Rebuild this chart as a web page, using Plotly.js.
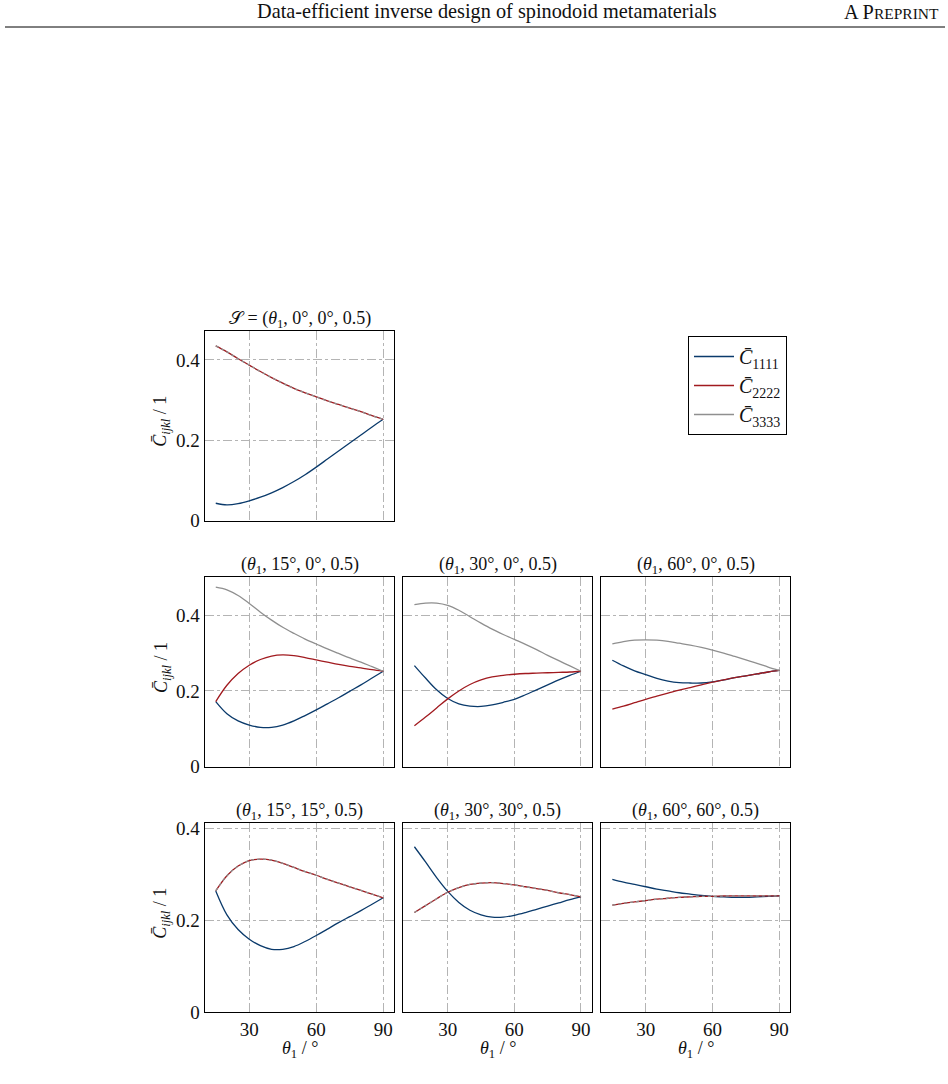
<!DOCTYPE html>
<html>
<head>
<meta charset="utf-8">
<script src="https://cdn.plot.ly/plotly-3.0.1.min.js"></script>
<style>html,body{margin:0;padding:0;background:#fff;}#chart{width:948px;height:1084px;}</style>
</head>
<body>
<div id="chart"></div>
<script>
// ---------------- data ----------------
const theta = [15,20,25,30,35,40,45,50,55,60,65,70,75,80,85,90];
const xTicks = [30,60,90];
const yTicks = [0,0.2,0.4];
const yTickText = ['0','0.2','0.4'];

// (θ1, 0°, 0°, 0.5)
const p00_C1111 = [0.043,0.039,0.042,0.049,0.058,0.069,0.082,0.097,0.114,0.133,0.153,0.173,0.193,0.213,0.233,0.252];
const p00_C2222 = [0.435,0.420,0.403,0.387,0.371,0.356,0.342,0.329,0.318,0.308,0.298,0.289,0.280,0.271,0.261,0.252];
const p00_C3333 = [0.435,0.420,0.403,0.387,0.371,0.356,0.342,0.329,0.318,0.308,0.298,0.289,0.280,0.271,0.261,0.252];
// (θ1, 15°, 0°, 0.5)
const p150_C1111 = [0.172,0.140,0.121,0.110,0.104,0.104,0.110,0.121,0.135,0.150,0.166,0.182,0.199,0.216,0.234,0.252];
const p150_C2222 = [0.172,0.215,0.246,0.268,0.283,0.292,0.295,0.293,0.288,0.282,0.276,0.270,0.265,0.261,0.256,0.252];
const p150_C3333 = [0.474,0.467,0.452,0.431,0.408,0.387,0.368,0.352,0.337,0.324,0.311,0.299,0.287,0.276,0.264,0.252];
// (θ1, 30°, 0°, 0.5)
const p300_C1111 = [0.267,0.234,0.203,0.180,0.166,0.160,0.159,0.163,0.170,0.178,0.190,0.203,0.216,0.229,0.241,0.252];
const p300_C2222 = [0.108,0.131,0.155,0.179,0.200,0.217,0.229,0.237,0.241,0.244,0.246,0.247,0.248,0.249,0.250,0.252];
const p300_C3333 = [0.428,0.432,0.432,0.426,0.413,0.396,0.379,0.363,0.349,0.336,0.323,0.309,0.294,0.280,0.266,0.252];
// (θ1, 60°, 0°, 0.5)
const p600_C1111 = [0.281,0.266,0.253,0.243,0.233,0.226,0.222,0.221,0.221,0.224,0.229,0.235,0.240,0.245,0.250,0.254];
const p600_C2222 = [0.152,0.160,0.169,0.178,0.186,0.194,0.202,0.209,0.216,0.223,0.229,0.235,0.240,0.245,0.250,0.254];
const p600_C3333 = [0.324,0.330,0.334,0.335,0.334,0.331,0.326,0.321,0.315,0.308,0.300,0.291,0.282,0.273,0.263,0.254];
// (θ1, 15°, 15°, 0.5)
const p1515_C1111 = [0.264,0.212,0.180,0.159,0.145,0.137,0.137,0.143,0.154,0.167,0.181,0.195,0.208,0.221,0.235,0.249];
const p1515_C2222 = [0.264,0.297,0.318,0.330,0.333,0.331,0.324,0.315,0.306,0.298,0.289,0.281,0.273,0.265,0.257,0.249];
const p1515_C3333 = [0.264,0.297,0.318,0.330,0.333,0.331,0.324,0.315,0.306,0.298,0.289,0.281,0.273,0.265,0.257,0.249];
// (θ1, 30°, 30°, 0.5)
const p3030_C1111 = [0.360,0.327,0.293,0.263,0.239,0.222,0.212,0.207,0.207,0.211,0.217,0.224,0.231,0.238,0.245,0.251];
const p3030_C2222 = [0.217,0.232,0.247,0.261,0.271,0.278,0.281,0.282,0.280,0.277,0.273,0.269,0.265,0.260,0.256,0.251];
const p3030_C3333 = [0.217,0.232,0.247,0.261,0.271,0.278,0.281,0.282,0.280,0.277,0.273,0.269,0.265,0.260,0.256,0.251];
// (θ1, 60°, 60°, 0.5)
const p6060_C1111 = [0.289,0.283,0.278,0.273,0.268,0.264,0.260,0.257,0.254,0.252,0.251,0.250,0.250,0.251,0.252,0.253];
const p6060_C2222 = [0.233,0.237,0.240,0.243,0.246,0.248,0.250,0.251,0.252,0.252,0.253,0.253,0.253,0.253,0.253,0.253];
const p6060_C3333 = [0.233,0.237,0.240,0.243,0.246,0.248,0.250,0.251,0.252,0.252,0.253,0.253,0.253,0.253,0.253,0.253];

const seriesNames = ['<i>C̄</i><sub>1111</sub>','<i>C̄</i><sub>2222</sub>','<i>C̄</i><sub>3333</sub>'];
const panelTitles = [
  '𝒮 = (<i>θ</i><sub>1</sub>, 0°, 0°, 0.5)',
  '(<i>θ</i><sub>1</sub>, 15°, 0°, 0.5)',
  '(<i>θ</i><sub>1</sub>, 30°, 0°, 0.5)',
  '(<i>θ</i><sub>1</sub>, 60°, 0°, 0.5)',
  '(<i>θ</i><sub>1</sub>, 15°, 15°, 0.5)',
  '(<i>θ</i><sub>1</sub>, 30°, 30°, 0.5)',
  '(<i>θ</i><sub>1</sub>, 60°, 60°, 0.5)'
];
const xTitle = '<i>θ</i><sub>1</sub> / °';
const yTitle = '<i>C̄</i><sub><i>ijkl</i></sub> / 1';

// ---------------- layout / styling ----------------
const W = 948, H = 1084;
const FONT = 'Liberation Serif, serif';
const COLORS = ['#0a3a6b','#a11a1f','#8f8f8f'];
const cols = [[204.6,394.4],[403.3,592.1],[601.2,790.4]];
const rows = [[331,520.5],[577.3,766.7],[823.3,1012.3]];
const rowYMax = [0.472,0.5,0.411];
const TXT = {family: FONT, size: 18, color: '#111'};
const TICK = {family: FONT, size: 19, color: '#111'};
const AXT = {family: FONT, size: 18, color: '#111'};

const panels = [
  {row:0,col:0,data:[p00_C1111,p00_C2222,p00_C3333],overlap:true},
  {row:1,col:0,data:[p150_C1111,p150_C2222,p150_C3333],overlap:false,legend:true},
  {row:1,col:1,data:[p300_C1111,p300_C2222,p300_C3333],overlap:false},
  {row:1,col:2,data:[p600_C1111,p600_C2222,p600_C3333],overlap:false},
  {row:2,col:0,data:[p1515_C1111,p1515_C2222,p1515_C3333],overlap:true},
  {row:2,col:1,data:[p3030_C1111,p3030_C2222,p3030_C3333],overlap:true},
  {row:2,col:2,data:[p6060_C1111,p6060_C2222,p6060_C3333],overlap:true}
];

const traces = [];
const layout = {
  width: W, height: H,
  margin: {l:0,r:0,t:0,b:0},
  paper_bgcolor: '#fff', plot_bgcolor: '#fff',
  font: TXT,
  showlegend: true,
  legend: {
    x: 688/W, y: 1-336/H, xanchor: 'left', yanchor: 'top',
    bgcolor: '#fff', bordercolor: '#000', borderwidth: 1,
    font: {family: FONT, size: 20, color: '#111'},
    tracegroupgap: 0, itemwidth: 40
  },
  annotations: [],
  shapes: []
};

panels.forEach((p, i) => {
  const n = i + 1;
  const xa = 'xaxis' + (n === 1 ? '' : n), ya = 'yaxis' + (n === 1 ? '' : n);
  const xr = 'x' + (n === 1 ? '' : n), yr = 'y' + (n === 1 ? '' : n);
  const c = cols[p.col], r = rows[p.row];
  const bottom = p.row === 2, left = p.col === 0;
  layout[xa] = {
    domain: [c[0]/W, c[1]/W], anchor: yr, range: [10,95],
    tickvals: xTicks, ticktext: xTicks.map(String), showticklabels: bottom,
    ticks: '', ticklabelstandoff: 0,
    showgrid: true, gridcolor: '#b4b4b4', griddash: 'dashdot', gridwidth: 1,
    zeroline: false, showline: true, linecolor: '#000', linewidth: 1, mirror: true,
    tickfont: TICK, fixedrange: true
  };
  layout[ya] = {
    domain: [1 - r[1]/H, 1 - r[0]/H], anchor: xr, range: [0, rowYMax[p.row]],
    tickvals: yTicks, ticktext: yTickText, showticklabels: left,
    ticks: '', ticklabelstandoff: 0,
    showgrid: true, gridcolor: '#b4b4b4', griddash: 'dashdot', gridwidth: 1,
    zeroline: false, showline: true, linecolor: '#000', linewidth: 1, mirror: true,
    tickfont: TICK, fixedrange: true
  };

  p.data.forEach((arr, k) => {
    const dashed = p.overlap && k === 2;
    traces.push({
      x: theta, y: arr, xaxis: xr, yaxis: yr, type: 'scatter', mode: 'lines',
      name: seriesNames[k], showlegend: !!p.legend,
      line: {color: COLORS[k], width: 1.3, shape: 'spline', smoothing: 1, dash: dashed ? '3px,3px' : 'solid'},
      hoverinfo: 'skip'
    });
  });

  layout.annotations.push({
    text: panelTitles[i], xref: 'paper', yref: 'paper',
    x: (c[0] + c[1]) / 2 / W, y: 1 - (r[0] - 11.5) / H,
    xanchor: 'center', yanchor: 'middle', showarrow: false, font: TXT
  });
  if (bottom) layout.annotations.push({
    text: xTitle, xref: 'paper', yref: 'paper',
    x: (c[0] + c[1]) / 2 / W, y: 1 - 1049/H,
    xanchor: 'center', yanchor: 'middle', showarrow: false, font: AXT
  });
  if (left) layout.annotations.push({
    text: yTitle, xref: 'paper', yref: 'paper', textangle: -90,
    x: 162/W, y: 1 - ((r[0] + r[1]) / 2 - 4) / H,
    xanchor: 'center', yanchor: 'middle', showarrow: false, font: AXT
  });
});

// page header
layout.annotations.push({
  text: 'Data-efficient inverse design of spinodoid metamaterials',
  xref: 'paper', yref: 'paper', x: 487.5/W, y: 1 - 12/H, xanchor: 'center', yanchor: 'middle',
  showarrow: false, font: {family: FONT, size: 20.3, color: '#111'}
});
layout.annotations.push({
  text: 'A P<span style="font-size:15.5px">REPRINT</span>',
  xref: 'paper', yref: 'paper', x: 941/W, y: 1 - 12/H, xanchor: 'right', yanchor: 'middle',
  showarrow: false, font: {family: FONT, size: 20.3, color: '#111'}
});
layout.shapes.push({
  type: 'line', xref: 'paper', yref: 'paper', x0: 5/W, x1: 945/W, y0: 1 - 27/H, y1: 1 - 27/H,
  line: {color: '#000', width: 1}
});

Plotly.newPlot('chart', traces, layout, {staticPlot: true, displayModeBar: false});
</script>
</body>
</html>
